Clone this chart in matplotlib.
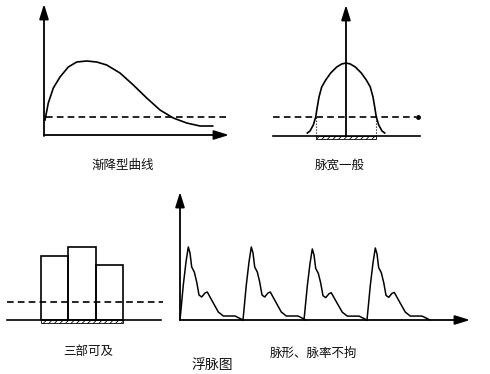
import matplotlib
matplotlib.use('Agg')
import matplotlib.pyplot as plt
from matplotlib.patches import Rectangle
import numpy as np

plt.rcParams['font.family'] = ['Noto Sans CJK SC', 'DejaVu Sans']
plt.rcParams['hatch.linewidth'] = 0.6

W, H = 490, 374

# 渐降型曲线 (单位: 像素, 原点在坐标轴交点)
decline_x = [1, 4.3, 9.3, 16, 24.3, 32.7, 42.7, 52.7, 62.7, 76, 89.3, 102.7,
             116, 129.3, 142.7, 156, 168.7]
decline_y = [15, 32, 47, 58, 68, 73, 74, 73, 70, 62, 50, 37, 25, 17, 12, 9, 9]
decline_ref = 18

# 脉宽一般
bell_x = [-38.7, -36, -32.7, -30.3, -28.7, -27, -24.3, -20.3, -15.3, -9.3, -4.3, 0,
          4.3, 9.3, 15.3, 20.3, 24.3, 27, 28.7, 30.3, 32.7, 36, 38.7]
bell_y = [3, 5, 11, 19, 29, 39, 49, 56, 63, 69, 72, 73,
          72, 69, 63, 56, 49, 39, 29, 19, 11, 5, 3]
bell_ref = 19
bell_edges = [-30, 30]

# 三部可及
bar_left = [41, 68, 96]
bar_width = [27, 28, 27]
bar_height = [64, 73, 55]
bar_ref = 18

# 脉形、脉率不拘
pulse_x = [0, 3.3, 6, 8.3, 10, 11.7, 14.3, 16.7, 19, 21.7, 25, 27.3, 30, 33.3,
           38.3, 43.3, 50, 55, 59, 63]
pulse_y = [0, 35, 58, 73, 67, 53, 48, 38, 25, 23, 27, 28, 23, 17,
           8, 4, 4, 4, 2, 0]
pulse_start = [0, 63, 124, 187]
pulse_peak = [73, 73, 71, 72]

labels = ['渐降型曲线', '脉宽一般', '三部可及', '脉形、脉率不拘']
title = '浮脉图'

LW = 1.2
AX_LW = 1.3


def panel(fig, origin, box):
    ox, oy = origin
    x0, y0, x1, y1 = box
    ax = fig.add_axes([x0 / W, 1 - y1 / H, (x1 - x0) / W, (y1 - y0) / H])
    ax.set_xlim(x0 - ox, x1 - ox)
    ax.set_ylim(oy - y1, oy - y0)
    ax.axis('off')
    ax.patch.set_alpha(0)
    return ax


def arrow(ax, start, end):
    ax.annotate('', xy=end, xytext=start, annotation_clip=False,
                arrowprops=dict(arrowstyle='-|>,head_length=0.9,head_width=0.28',
                                color='k', lw=AX_LW, shrinkA=0, shrinkB=0,
                                mutation_scale=10))


fig = plt.figure(figsize=(W / 100, H / 100), dpi=100, facecolor='white')

# 文字层
tax = fig.add_axes([0, 0, 1, 1])
tax.set_xlim(0, W)
tax.set_ylim(H, 0)
tax.axis('off')
for (tx, ty), s in zip([(123, 165), (340, 165), (88, 352), (313, 353)], labels):
    tax.text(tx, ty, s, ha='center', va='center', fontsize=9, color='#111111')
tax.text(212, 365, title, ha='center', va='center', fontsize=10, color='#111111')

# 1. 渐降型曲线
ax1 = panel(fig, (44, 135), (30, 0, 240, 150))
arrow(ax1, (0, -1), (0, 131))
arrow(ax1, (0, 0), (185, 0))
ax1.plot(decline_x, decline_y, color='k', lw=LW, solid_joinstyle='round')
ax1.plot([2, 184], [decline_ref, decline_ref], color='k', lw=LW, ls=(0, (4, 2.5)))

# 2. 脉宽一般
ax2 = panel(fig, (346, 136), (265, 0, 430, 150))
arrow(ax2, (0, 0), (0, 131))
ax2.plot([-73, 74], [0, 0], color='k', lw=LW)
ax2.plot([-73, 70], [bell_ref, bell_ref], color='k', lw=LW, ls=(0, (4, 2.5)))
ax2.plot([72], [bell_ref], 'o', color='k', ms=2.5)
ax2.plot(bell_x, bell_y, color='k', lw=LW, solid_joinstyle='round')
for e in bell_edges:
    ax2.plot([e, e], [0, bell_ref], color='k', lw=0.8, ls=':')
ax2.add_patch(Rectangle((bell_edges[0], -2.5), bell_edges[1] - bell_edges[0], 2.5,
                        fill=False, hatch='//////', lw=0.6, edgecolor='k'))

# 3. 三部可及
ax3 = panel(fig, (0, 320), (0, 230, 175, 335))
ax3.plot([7, 161], [0, 0], color='k', lw=LW)
ax3.plot([7, 163], [bar_ref, bar_ref], color='k', lw=LW, ls=(0, (4, 2.5)), zorder=1)
ax3.bar(bar_left, bar_height, width=bar_width, align='edge', fill=False,
        edgecolor='k', lw=LW, zorder=2)
ax3.add_patch(Rectangle((bar_left[0], -3), bar_left[-1] + bar_width[-1] - bar_left[0], 3,
                        fill=False, hatch='//////', lw=0.6, edgecolor='k'))

# 4. 脉形、脉率不拘
ax4 = panel(fig, (180, 320), (172, 185, 480, 330))
arrow(ax4, (0, 0), (0, 128))
arrow(ax4, (0, 0), (290, 0))
for s, pk in zip(pulse_start, pulse_peak):
    ax4.plot(np.array(pulse_x) + s, np.array(pulse_y) * pk / max(pulse_y),
             color='k', lw=LW * 0.9, solid_joinstyle='round')

fig.savefig('out.png', dpi=100, facecolor='white')
